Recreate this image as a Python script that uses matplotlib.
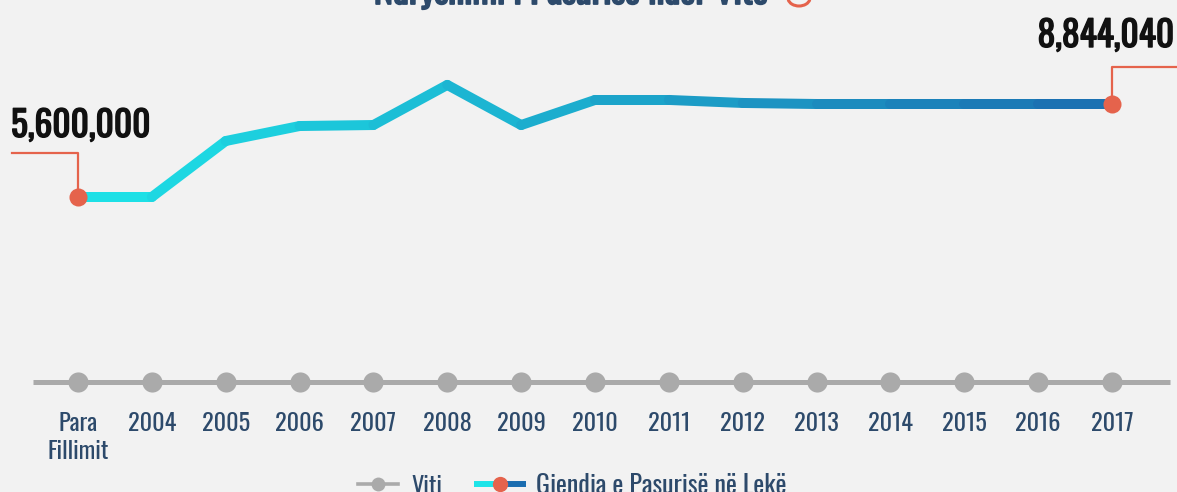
import numpy as np
import matplotlib
matplotlib.use("Agg")
import matplotlib.pyplot as plt
import matplotlib.patheffects as pe
from matplotlib.collections import LineCollection
from matplotlib.colors import to_rgb
from matplotlib.lines import Line2D
from matplotlib.patches import Arc

plt.rcParams['font.family'] = ['Oswald', 'Fira Sans Condensed', 'DejaVu Sans']

title = "Ndryshimi i Pasurisë ndër Vite"
years = ["Para\nFillimit", "2004", "2005", "2006", "2007", "2008", "2009", "2010",
         "2011", "2012", "2013", "2014", "2015", "2016", "2017"]
wealth = [5600000, 5600000, 7553000, 8076000, 8111000, 9510000, 8110000, 8985000,
          8985000, 8880000, 8844040, 8844040, 8844040, 8844040, 8844040]
series_name = "Gjendja e Pasurisë në Lekë"
axis_name = "Viti"

W, H = 1177, 492
BG = '#f2f2f2'
NAVY = '#2d4a6b'
RED = '#e5634c'
GRAY = '#aaaaaa'
C_START = np.array(to_rgb('#1de4e8'))
C_END = np.array(to_rgb('#1b6db0'))


def ff(x, y):
    """pixel (from top-left) -> figure fraction"""
    return x / W, 1 - y / H


def heavy(color, w=1.0):
    return [pe.withStroke(linewidth=w, foreground=color)]


fig = plt.figure(figsize=(W / 100, H / 100), dpi=100, facecolor=BG)
ax = fig.add_axes([0, 0, 1, 1])
ax.set_facecolor(BG)
ax.axis('off')

n = len(years)
xs = np.arange(n)
vals = np.array(wealth, dtype=float)

# map the axes so index 0 sits at px 78 and step is ~74 px
step = 73.86
ax.set_xlim(-78 / step, (W - 78) / step)
vpp = (wealth[-1] - wealth[0]) / 93.0
ax.set_ylim(wealth[0] - (H - 197) * vpp, wealth[0] + 197 * vpp)

# gradient line, one colour per segment
segs = [[(xs[i], vals[i]), (xs[i + 1], vals[i + 1])] for i in range(n - 1)]
t = (xs[:-1] + 0.5) / (n - 1)
cols = [C_START + (C_END - C_START) * ti for ti in t]
lc = LineCollection(segs, colors=cols, linewidths=7.2, capstyle='round',
                    joinstyle='round', zorder=3)
ax.add_collection(lc)

# end dots
ax.plot([xs[0], xs[-1]], [vals[0], vals[-1]], 'o', color=RED, markersize=13,
        markeredgewidth=0, zorder=4)

# baseline with year dots
base_y = 1 - 382 / H
ax.plot([33 / W, 1170 / W], [base_y, base_y], color=GRAY, lw=3.6,
        transform=ax.transAxes, zorder=1, solid_capstyle='butt')
ax.plot(xs, [base_y] * n, 'o', color=GRAY, markersize=14.5, markeredgewidth=0,
        transform=ax.get_xaxis_transform(), zorder=2)

for i, lab in enumerate(years):
    for k, line in enumerate(lab.split('\n')):
        ax.text(xs[i], 1 - (431 + 28 * k) / H, line, ha='center', va='baseline',
                fontsize=17.5, color=NAVY, transform=ax.get_xaxis_transform())

# value call-outs
inv = fig.transFigure.inverted()
p0 = inv.transform(ax.transData.transform((xs[0], vals[0])))
p1 = inv.transform(ax.transData.transform((xs[-1], vals[-1])))
y_l = 1 - 153 / H
y_r = 1 - 67 / H
fig.add_artist(Line2D([12 / W, p0[0], p0[0]], [y_l, y_l, p0[1]], color=RED, lw=1.6,
                      zorder=2))
fig.add_artist(Line2D([p1[0], p1[0], 1.0], [p1[1], y_r, y_r], color=RED, lw=1.6,
                      zorder=2))
fig.text(11 / W, 1 - 137 / H, '{:,}'.format(wealth[0]), ha='left', va='baseline',
         fontsize=25.5, color='#111111', path_effects=heavy('#111111', 1.0))
fig.text(1174 / W, 1 - 47 / H, '{:,}'.format(wealth[-1]), ha='right', va='baseline',
         fontsize=25.5, color='#111111', path_effects=heavy('#111111', 1.0))

# title, clipped at the top edge
fig.text(*ff(571, 4), title, ha='center', va='baseline', fontsize=26,
         color=NAVY, path_effects=heavy(NAVY, 1.3))
fig.add_artist(Arc(ff(799, -2), 22 / W, 16 / H, theta1=200, theta2=340,
                   color=RED, lw=2.2, transform=fig.transFigure))

# legend (bottom, partly cut)
ly = 484
fig.add_artist(Line2D([358 / W, 398 / W], [1 - ly / H] * 2, color=GRAY, lw=2.6))
fig.add_artist(Line2D([378 / W], [1 - ly / H], marker='o', color=GRAY,
                      markersize=10, markeredgewidth=0))
fig.text(*ff(411, 494), axis_name, ha='left', va='baseline', fontsize=17.5,
         color=NAVY)
fig.add_artist(Line2D([474 / W, 500 / W], [1 - ly / H] * 2, color=tuple(C_START),
                      lw=4.3, solid_capstyle='butt'))
fig.add_artist(Line2D([500 / W, 526 / W], [1 - ly / H] * 2, color=tuple(C_END),
                      lw=4.3, solid_capstyle='butt'))
fig.add_artist(Line2D([500 / W], [1 - ly / H], marker='o', color=RED,
                      markersize=11, markeredgewidth=0))
fig.text(*ff(536, 494), series_name, ha='left', va='baseline', fontsize=18.8,
         color=NAVY)

fig.savefig('out.png', dpi=100, facecolor=BG)
